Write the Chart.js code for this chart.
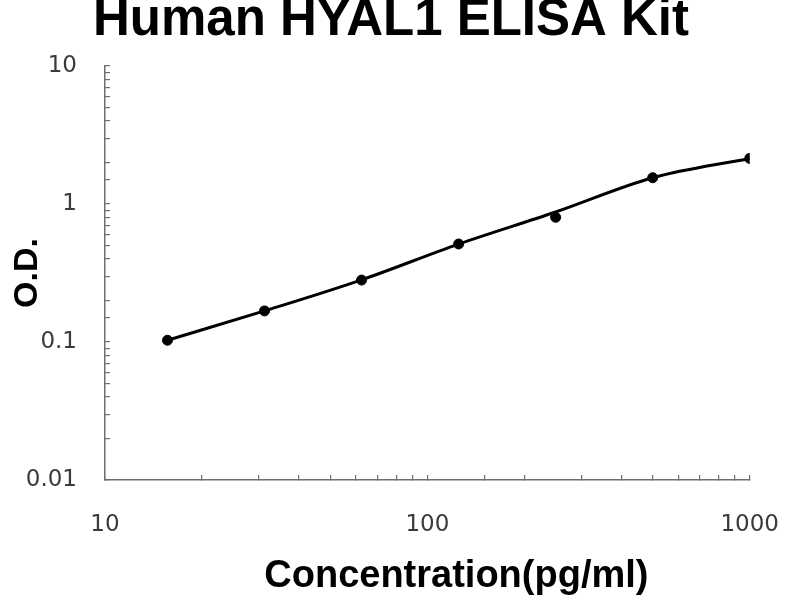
<!DOCTYPE html>
<html>
<head>
<meta charset="utf-8">
<title>Human HYAL1 ELISA Kit</title>
<script src="https://cdn.jsdelivr.net/npm/chart.js@4.4.1/dist/chart.umd.min.js"></script>
<style>
  html, body { margin: 0; padding: 0; background: #fff; }
  #chart { display: block; }
</style>
</head>
<body>
<canvas id="chart" width="800" height="600"></canvas>
<script>
// standard curve
const concentrations = [15.625, 31.25, 62.5, 125, 250, 500, 1000];
const odValues = [0.103, 0.168, 0.281, 0.513, 0.801, 1.55, 2.14];
// the fitted line at the same concentrations
const fitValues = [0.103, 0.168, 0.282, 0.512, 0.875, 1.55, 2.14];

const xTickLabels = ['10', '100', '1000'];
const yTickLabels = ['0.01', '0.1', '1', '10'];

const chartTitle = 'Human HYAL1 ELISA Kit';
const xAxisTitle = 'Concentration(pg/ml)';
const yAxisTitle = 'O.D.';

const points = concentrations.map((c, i) => ({ x: c, y: odValues[i] }));
const fitLine = concentrations.map((c, i) => ({ x: c, y: fitValues[i] }));

// x title sits a bit right of the axis centre in the original
const xTitlePlugin = {
  id: 'xTitle',
  afterDraw(chart) {
    const ctx = chart.ctx;
    const area = chart.chartArea;
    ctx.save();
    ctx.font = 'bold 38px "Liberation Sans", Arial, sans-serif';
    ctx.fillStyle = '#000';
    ctx.textAlign = 'center';
    ctx.textBaseline = 'alphabetic';
    ctx.fillText(xAxisTitle, (area.left + area.right) / 2 + 29, area.bottom + 107);
    ctx.restore();
  }
};

const ctx = document.getElementById('chart').getContext('2d');
new Chart(ctx, {
  type: 'line',
  data: {
    datasets: [{
      data: fitLine,
      borderColor: '#000',
      borderWidth: 3,
      pointRadius: 0,
      pointHoverRadius: 0,
      cubicInterpolationMode: 'monotone',
      fill: false
    }, {
      data: points,
      showLine: false,
      backgroundColor: '#000',
      pointBackgroundColor: '#000',
      pointBorderColor: '#000',
      pointRadius: 5,
      pointHoverRadius: 5
    }]
  },
  options: {
    responsive: false,
    animation: false,
    layout: {
      // small right padding keeps the title centred like the original;
      // the x tick padding below keeps the plot's right edge at 750
      padding: { left: 0, right: 18, top: 0, bottom: 0 }
    },
    plugins: {
      legend: { display: false },
      tooltip: { enabled: false },
      title: {
        display: true,
        text: chartTitle,
        color: '#000',
        font: { family: '"Liberation Sans", Arial, sans-serif', size: 51, weight: 'bold', lineHeight: 0.75 },
        padding: { top: 1.5, bottom: 26.25 }
      }
    },
    scales: {
      x: {
        type: 'logarithmic',
        min: 10,
        max: 1000,
        border: { display: true, color: '#6e6e6e', width: 1.5 },
        grid: { drawOnChartArea: false, drawTicks: true, tickLength: -5, color: '#6e6e6e', lineWidth: 1.2 },
        ticks: {
          autoSkip: false,
          maxRotation: 0,
          padding: 21,
          color: '#3a3a3a',
          font: { family: '"DejaVu Sans", sans-serif', size: 23, lineHeight: 2.52 },
          callback: (value) => xTickLabels.includes(String(value)) ? String(value) : ''
        },
        afterFit: (scale) => { scale.height = 120; }
      },
      y: {
        type: 'logarithmic',
        min: 0.01,
        max: 10,
        border: { display: true, color: '#6e6e6e', width: 1.5 },
        grid: { drawOnChartArea: false, drawTicks: true, tickLength: -5, color: '#6e6e6e', lineWidth: 1.2 },
        ticks: {
          autoSkip: false,
          padding: 33,
          color: '#3a3a3a',
          font: { family: '"DejaVu Sans", sans-serif', size: 23 },
          callback: (value) => yTickLabels.includes(String(value)) ? String(value) : ''
        },
        title: {
          display: true,
          text: yAxisTitle,
          color: '#000',
          font: { family: '"Liberation Sans", Arial, sans-serif', size: 34, weight: 'bold', lineHeight: 1 },
          padding: { top: 11, bottom: 0 }
        },
        afterFit: (scale) => { scale.width = 105; }
      }
    }
  },
  plugins: [xTitlePlugin]
});
</script>
</body>
</html>
